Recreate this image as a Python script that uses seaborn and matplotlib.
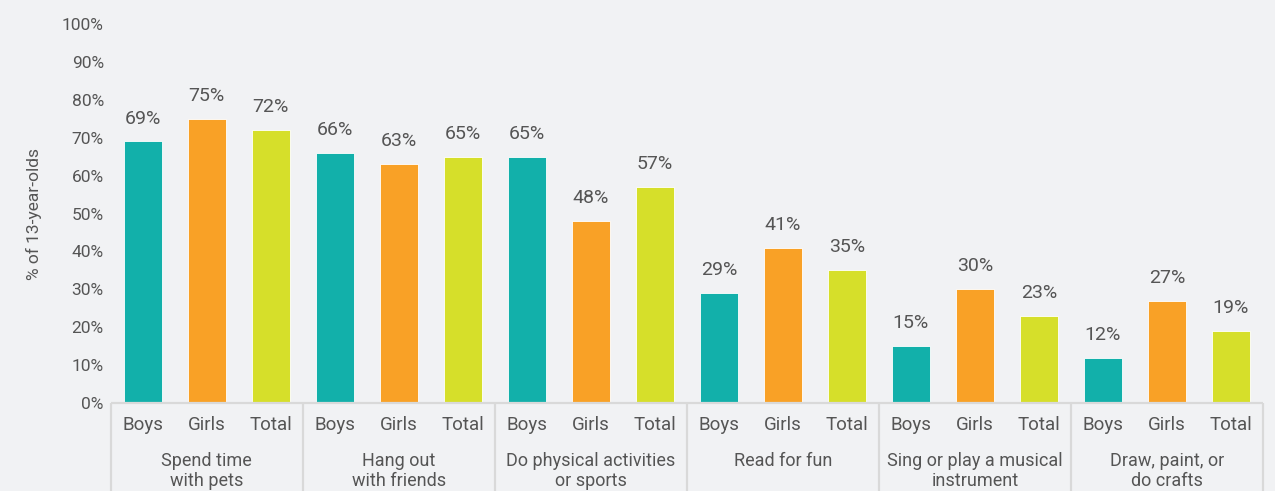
import matplotlib
matplotlib.use("Agg")
import matplotlib.pyplot as plt
import matplotlib.transforms as mtransforms
import seaborn as sns
import pandas as pd

# Activities and shares of 13-year-olds (percent)
activities = [
    "Spend time\nwith pets",
    "Hang out\nwith friends",
    "Do physical activities\nor sports",
    "Read for fun",
    "Sing or play a musical\ninstrument",
    "Draw, paint, or\ndo crafts",
]
groups = ["Boys", "Girls", "Total"]
boys = [69, 66, 65, 29, 15, 12]
girls = [75, 63, 48, 41, 30, 27]
total = [72, 65, 57, 35, 23, 19]
y_ticks = [0, 10, 20, 30, 40, 50, 60, 70, 80, 90, 100]

palette = {"Boys": "#12b0aa", "Girls": "#f9a126", "Total": "#d6df2a"}
bg = "#f1f2f4"
text_col = "#555555"
line_col = "#d9d9d9"

rows = []
for i, act in enumerate(activities):
    for g, vals in zip(groups, (boys, girls, total)):
        rows.append({"slot": f"{i}-{g}", "activity": act, "group": g, "value": vals[i]})
df = pd.DataFrame(rows)
order = list(df["slot"])

sns.set_theme(style="white")
plt.rcParams["font.family"] = ["Roboto", "DejaVu Sans"]

W, H = 1275, 491
fig = plt.figure(figsize=(W / 100, H / 100), dpi=100, facecolor=bg)
left, right, top, bottom = 110.7, 1263, 24, 403
ax = fig.add_axes([left / W, 1 - bottom / H, (right - left) / W, (bottom - top) / H])
ax.set_facecolor(bg)

sns.barplot(data=df, x="slot", y="value", hue="group", order=order,
            palette=palette, saturation=1, dodge=False, width=0.6, ax=ax,
            legend=False, edgecolor="#ffffff", linewidth=0.6)

ax.set_ylim(0, 100)
ax.set_xlim(-0.5, len(order) - 0.5)
ax.set_yticks(y_ticks)
ax.set_yticklabels([f"{v}%" for v in y_ticks])
ax.set_xticks(range(len(order)))
ax.set_xticklabels(list(df["group"]))
ax.tick_params(axis="y", length=0, pad=5, labelsize=12.5, labelcolor=text_col)
ax.tick_params(axis="x", length=0, pad=9, labelsize=13.5, labelcolor=text_col)
ax.set_xlabel("")
ax.set_ylabel("% of 13-year-olds", fontsize=12.5, color=text_col, labelpad=14)
for s in ax.spines.values():
    s.set_visible(False)

# value labels above each bar
for x, v in enumerate(df["value"]):
    ax.annotate(f"{v}%", xy=(x, v), xytext=(0, 10), textcoords="offset points",
                ha="center", va="bottom", fontsize=14, color=text_col)

# grouping frame under the axis
trans = mtransforms.blended_transform_factory(ax.transData, ax.transAxes)
fig_bottom = -(H - bottom) / (bottom - top)
ax.plot([-0.5, len(order) - 0.5], [0, 0], color=line_col, lw=1.6,
        transform=trans, clip_on=False, solid_capstyle="butt")
for k in range(len(activities) + 1):
    xb = k * 3 - 0.5
    ax.plot([xb, xb], [0, fig_bottom], color=line_col, lw=1.6,
            transform=trans, clip_on=False, solid_capstyle="butt")
for i, act in enumerate(activities):
    ax.annotate(act, xy=(i * 3 + 1, 0), xycoords=trans, xytext=(0, -35),
                textcoords="offset points", ha="center", va="top",
                fontsize=13, color=text_col, linespacing=1.2,
                annotation_clip=False)

fig.savefig("out.png", dpi=100, facecolor=bg)
